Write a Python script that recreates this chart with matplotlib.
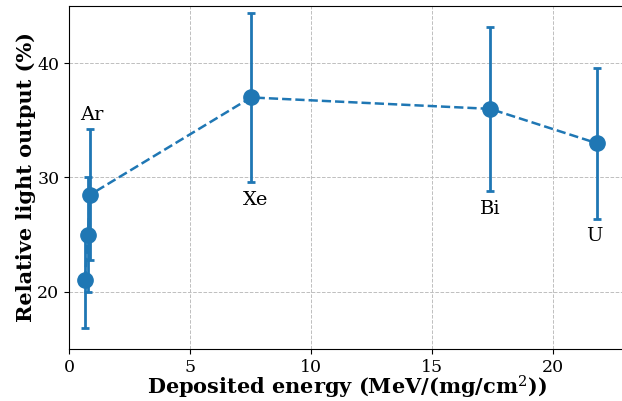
import matplotlib.pyplot as plt

# ----------------------------
# Data
# ----------------------------
energy = [0.66, 0.78, 0.88, 7.52, 17.4, 21.8]
light = [21.0, 25.0, 28.5, 37.0, 36.0, 33.0]
err = [4.2, 5.0, 5.7, 7.4, 7.2, 6.6]

ion_names = ["Ar", "Xe", "Bi", "U"]
ion_x = [0.95, 7.7, 17.4, 21.7]
ion_y = [35.5, 28.0, 27.2, 24.9]

# ----------------------------
# Plot
# ----------------------------
plt.rcParams["font.family"] = "DejaVu Serif"
plt.rcParams["mathtext.fontset"] = "dejavuserif"

fig = plt.figure(figsize=(6.22, 4.01), dpi=100)
ax = fig.add_axes([0.111, 0.130, 0.895, 0.855])

ax.errorbar(energy, light, yerr=err, fmt="o--", color="tab:blue",
            markersize=11, linewidth=1.8, elinewidth=2, capsize=3,
            capthick=2)

for name, x, y in zip(ion_names, ion_x, ion_y):
    ax.text(x, y, name, fontsize=14, ha="center", va="center")

ax.set_xlim(0, 23)
ax.set_ylim(15, 45)
ax.set_xticks([0, 5, 10, 15, 20])
ax.set_yticks([20, 30, 40])
ax.tick_params(labelsize=12.5)
ax.grid(True, linestyle="--", color="0.75", linewidth=0.7)

ax.set_xlabel("Deposited energy (MeV/(mg/cm$^2$))", fontsize=15,
              fontweight="bold", labelpad=-1)
ax.set_ylabel("Relative light output (%)", fontsize=15, fontweight="bold",
              labelpad=1)

fig.savefig("out.png", dpi=100)
